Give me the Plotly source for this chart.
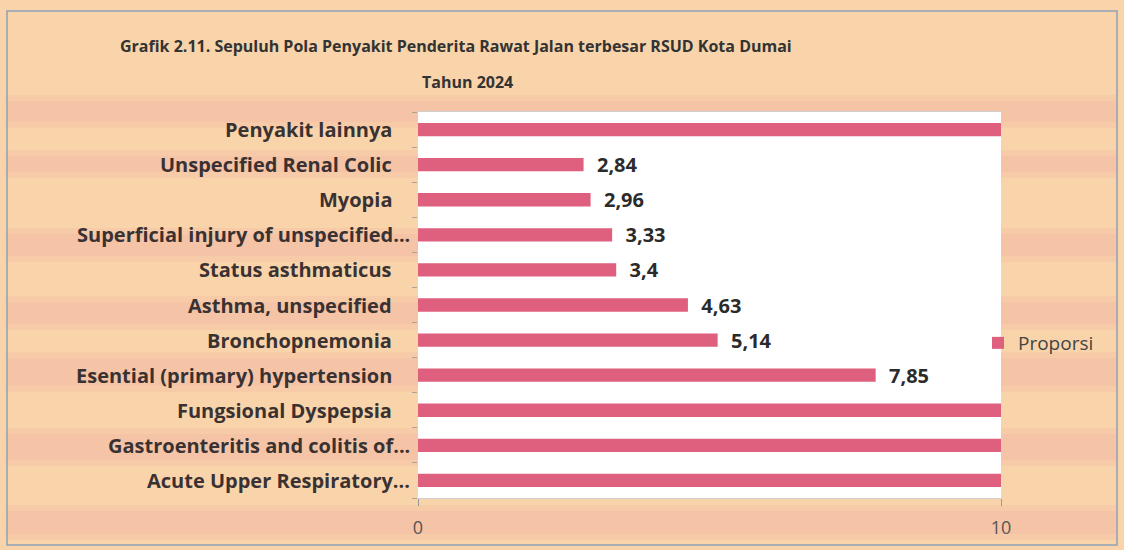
"""Sepuluh pola penyakit rawat jalan terbesar RSUD Kota Dumai 2024."""
import plotly.graph_objects as go

# Data (bottom to top, as drawn)
categories = [
    'Acute Upper Respiratory...',
    'Gastroenteritis and colitis of...',
    'Fungsional Dyspepsia',
    'Esential (primary) hypertension',
    'Bronchopnemonia',
    'Asthma, unspecified',
    'Status asthmaticus',
    'Superficial injury of unspecified...',
    'Myopia',
    'Unspecified Renal Colic',
    'Penyakit lainnya',
]
proporsi = [16.2, 12.4, 10.75, 7.85, 5.14, 4.63, 3.4, 3.33, 2.96, 2.84, 30.5]
x_ticks = [0, 10]

# labels only for bars that end inside the 0-10 axis
labels = ['  ' + f'{v:g}'.replace('.', ',') if v < 10 else '' for v in proporsi]

W, H = 1124, 550
L, R, T, B = 418, 1001, 112, 498


def px2paper_x(px):
    return (px - L) / (R - L)


def px2paper_y(py):
    return (B - py) / (B - T)


FONT = 'Open Sans'

fig = go.Figure(go.Bar(
    x=proporsi, y=categories, orientation='h', name='Proporsi',
    marker_color='#DE5F7E', marker_line_width=0,
    text=labels, textposition='outside', cliponaxis=True,
    constraintext='none',
    textfont=dict(family=FONT, size=20, color='#2b2b2b', weight='bold'),
    showlegend=True,
))

fig.update_layout(
    width=W, height=H,
    margin=dict(l=L, r=W - R, t=T, b=H - B, autoexpand=False),
    paper_bgcolor='#F9D4AA', plot_bgcolor='rgba(0,0,0,0)',
    font=dict(family=FONT, color='#333333'),
    bargap=0.62,
    legend=dict(x=px2paper_x(978), xanchor='left', y=px2paper_y(343),
                yanchor='middle', itemwidth=30,
                font=dict(size=19, color='#444444'), bgcolor='rgba(0,0,0,0)'),
    showlegend=True,
)
fig.update_xaxes(range=[0, 10], tickvals=x_ticks, showgrid=False,
                 zeroline=False, ticks='outside', ticklen=7,
                 ticklabelstandoff=6,
                 tickcolor='#999999', tickfont=dict(size=18, color='#555555'),
                 showline=True, linecolor='#d0d0d0', mirror=True)
fig.update_yaxes(showgrid=False, ticks='outside', ticklen=5,
                 tickson='boundaries', tickcolor='#b0a090',
                 showticklabels=False, showline=False)

# soft pink streaks of the gradient background
for y0, y1 in [(95, 128), (150, 178), (228, 262), (296, 330), (352, 392),
               (428, 466), (505, 540)]:
    for pad, op in [(0, 0.18), (6, 0.18)]:
        fig.add_shape(type='rect', xref='paper', yref='paper',
                      x0=px2paper_x(7), x1=px2paper_x(1117),
                      y0=px2paper_y(y1 - pad), y1=px2paper_y(y0 + pad),
                      fillcolor='#F0A8A2', opacity=op, line_width=0,
                      layer='below')

# white plot area on top of the streaks
fig.add_shape(type='rect', xref='paper', yref='paper', x0=0, x1=1, y0=0, y1=1,
              fillcolor='white', line_width=0, layer='below')

# category labels (Excel-style: truncated ones sit further right)
for cat in categories:
    end_px = 412 if cat.endswith('...') else 394
    fig.add_annotation(text=cat, xref='paper', yref='y', x=px2paper_x(end_px),
                       y=cat, xanchor='right', yanchor='middle', showarrow=False,
                       font=dict(size=20, color='#3a3232', weight='bold'))

# title lines
fig.add_annotation(text='Grafik 2.11. Sepuluh Pola Penyakit Penderita Rawat Jalan terbesar RSUD Kota Dumai',
                   xref='paper', yref='paper', x=px2paper_x(118), y=px2paper_y(46),
                   xanchor='left', yanchor='middle', showarrow=False,
                   font=dict(size=16, color='#333333', weight='bold'))
fig.add_annotation(text='Tahun 2024', xref='paper', yref='paper',
                   x=px2paper_x(467), y=px2paper_y(82),
                   xanchor='center', yanchor='middle', showarrow=False,
                   font=dict(size=16, color='#333333', weight='bold'))

# outer frame
fig.add_shape(type='rect', xref='paper', yref='paper',
              x0=px2paper_x(7), x1=px2paper_x(1117),
              y0=px2paper_y(545), y1=px2paper_y(11),
              line=dict(color='#8fa0b8', width=1.5), layer='below')

fig.write_html('out.html', config={'displayModeBar': False},
               post_script="document.body.style.margin='0';")
